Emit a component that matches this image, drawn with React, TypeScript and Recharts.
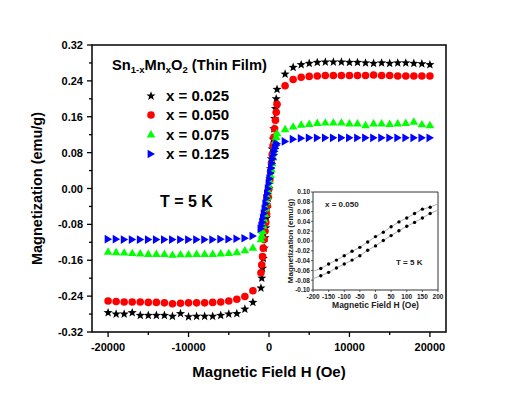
import {
  ScatterChart, Scatter, LineChart, Line,
  XAxis, YAxis, ReferenceArea, Legend
} from "recharts";

const FUENTE = "'Liberation Sans', Arial, sans-serif";

// Campo magnético H (Oe) de la figura principal
const campo = [
  -20000, -19000, -18000, -17000, -16000, -15000, -14000, -13000, -12000, -11000,
  -10000, -9000, -8000, -7000, -6000, -5000, -4000, -3000, -2000,
  -1000, -900, -800, -700, -600, -500, -400, -300, -200, -100,
  0, 100, 200, 300, 400, 500, 600, 700, 800, 900, 1000,
  2000, 3000, 4000, 5000, 6000, 7000, 8000, 9000, 10000, 11000,
  12000, 13000, 14000, 15000, 16000, 17000, 18000, 19000, 20000
];

// Magnetización (emu/g) para cada x
const m025 = [
  -0.277, -0.280, -0.280, -0.277, -0.283, -0.283, -0.283, -0.283, -0.285, -0.279,
  -0.286, -0.285, -0.285, -0.285, -0.283, -0.280, -0.279, -0.269, -0.254,
  -0.222, -0.200, -0.178, -0.156, -0.133, -0.110, -0.088, -0.066, -0.044, -0.022,
  0.000, 0.022, 0.044, 0.066, 0.088, 0.110, 0.133, 0.156, 0.178, 0.200, 0.221,
  0.255, 0.270, 0.276, 0.279, 0.281, 0.282, 0.282, 0.282, 0.281, 0.281,
  0.280, 0.279, 0.280, 0.279, 0.280, 0.280, 0.279, 0.278, 0.276
];

const m050 = [
  -0.251, -0.252, -0.253, -0.253, -0.253, -0.254, -0.254, -0.255, -0.257, -0.256,
  -0.255, -0.255, -0.255, -0.254, -0.253, -0.251, -0.247, -0.241, -0.228,
  -0.188, -0.170, -0.152, -0.133, -0.114, -0.095, -0.076, -0.057, -0.038, -0.019,
  0.000, 0.019, 0.038, 0.057, 0.076, 0.095, 0.114, 0.133, 0.152, 0.170, 0.188,
  0.229, 0.243, 0.248, 0.250, 0.251, 0.252, 0.252, 0.252, 0.252, 0.252,
  0.252, 0.253, 0.252, 0.252, 0.251, 0.251, 0.251, 0.251, 0.251
];

const m075 = [
  -0.140, -0.141, -0.142, -0.143, -0.144, -0.145, -0.145, -0.145, -0.147, -0.146,
  -0.146, -0.145, -0.145, -0.145, -0.144, -0.143, -0.141, -0.137, -0.131,
  -0.112, -0.104, -0.094, -0.082, -0.069, -0.056, -0.043, -0.030, -0.018, -0.006,
  0.006, 0.018, 0.031, 0.044, 0.057, 0.070, 0.083, 0.095, 0.106, 0.116, 0.124,
  0.133, 0.139, 0.143, 0.145, 0.147, 0.148, 0.148, 0.148, 0.146, 0.146,
  0.142, 0.146, 0.146, 0.145, 0.146, 0.147, 0.150, 0.144, 0.142
];

const m125 = [
  -0.113, -0.113, -0.114, -0.114, -0.114, -0.114, -0.114, -0.114, -0.114, -0.114,
  -0.114, -0.114, -0.114, -0.114, -0.113, -0.113, -0.112, -0.111, -0.106,
  -0.090, -0.083, -0.075, -0.066, -0.056, -0.045, -0.034, -0.022, -0.011, 0.000,
  0.011, 0.022, 0.034, 0.045, 0.056, 0.066, 0.075, 0.083, 0.090, 0.096, 0.100,
  0.105, 0.110, 0.112, 0.113, 0.113, 0.113, 0.113, 0.113, 0.113, 0.113,
  0.113, 0.113, 0.113, 0.113, 0.113, 0.113, 0.113, 0.113, 0.113
];

const ticksX = [-20000, -15000, -10000, -5000, 0, 5000, 10000, 15000, 20000];
const ticksY = [
  -0.32, -0.28, -0.24, -0.2, -0.16, -0.12, -0.08, -0.04, 0,
  0.04, 0.08, 0.12, 0.16, 0.2, 0.24, 0.28, 0.32
];

// Datos del recuadro (x = 0.050, T = 5 K)
const campoInset = [-200, -175, -150, -125, -100, -75, -50, -25, 0, 25, 50, 75, 100, 125, 150, 175, 200];
const ramaSuperior = [
  -0.062, -0.056, -0.047, -0.039, -0.030, -0.021, -0.013, -0.002, 0.009,
  0.018, 0.029, 0.039, 0.047, 0.056, 0.065, 0.069, 0.076
];
const ramaInferior = [
  -0.077, -0.071, -0.064, -0.055, -0.047, -0.039, -0.030, -0.019, -0.010,
  0.001, 0.011, 0.021, 0.030, 0.038, 0.047, 0.056, 0.063
];
const ticksXInset = [-200, -150, -100, -50, 0, 50, 100, 150, 200];
const ticksYInset = [-0.1, -0.08, -0.06, -0.04, -0.02, 0, 0.02, 0.04, 0.06, 0.08, 0.1];

// Marcadores
function Marcador({ forma, cx, cy, color }: any) {
  if (forma === "estrella") {
    const pts: string[] = [];
    for (let i = 0; i < 10; i++) {
      const r = i % 2 === 0 ? 4.8 : 2.0;
      const a = -Math.PI / 2 + (i * Math.PI) / 5;
      pts.push(`${cx + r * Math.cos(a)},${cy + r * Math.sin(a)}`);
    }
    return <polygon points={pts.join(" ")} fill={color} />;
  }
  if (forma === "circulo") {
    return <circle cx={cx} cy={cy} r={3.8} fill={color} />;
  }
  if (forma === "triangulo") {
    return <polygon points={`${cx},${cy - 4} ${cx + 4.3},${cy + 3.4} ${cx - 4.3},${cy + 3.4}`} fill={color} />;
  }
  return <polygon points={`${cx + 4},${cy} ${cx - 3.4},${cy + 4.3} ${cx - 3.4},${cy - 4.3}`} fill={color} />;
}

const series = [
  { nombre: "x = 0.025", valores: m025, color: "#000000", forma: "estrella" },
  { nombre: "x = 0.050", valores: m050, color: "#ff0000", forma: "circulo" },
  { nombre: "x = 0.075", valores: m075, color: "#00ff00", forma: "triangulo" },
  { nombre: "x = 0.125", valores: m125, color: "#0000ff", forma: "derecha" }
];

// Ticks con menores
function TickY(props: any) {
  const { x, y, index, payload } = props;
  const mayor = index % 2 === 0;
  return (
    <g>
      <line x1={x - (mayor ? 5 : 3)} x2={x} y1={y} y2={y} stroke="#000" strokeWidth={1.3} />
      {mayor && (
        <text x={x - 9} y={y + 4} textAnchor="end" fontSize={11} fontWeight="bold" fontFamily={FUENTE} fill="#000">
          {payload.value.toFixed(2)}
        </text>
      )}
    </g>
  );
}

function TickX(props: any) {
  const { x, y, index, payload } = props;
  const mayor = index % 2 === 0;
  return (
    <g>
      <line x1={x} x2={x} y1={y} y2={y + (mayor ? 5 : 3)} stroke="#000" strokeWidth={1.3} />
      {mayor && (
        <text x={x} y={y + 19} textAnchor="middle" fontSize={11} fontWeight="bold" fontFamily={FUENTE} fill="#000">
          {payload.value}
        </text>
      )}
    </g>
  );
}

function TickYInset(props: any) {
  const { x, y, payload } = props;
  return (
    <g>
      <line x1={x - 2} x2={x} y1={y} y2={y} stroke="#333" strokeWidth={0.8} />
      <text x={x - 3} y={y + 2.3} textAnchor="end" fontSize={6.5} fontWeight="bold" fontFamily={FUENTE} fill="#222">
        {payload.value.toFixed(2)}
      </text>
    </g>
  );
}

function TickXInset(props: any) {
  const { x, y, payload } = props;
  return (
    <g>
      <line x1={x} x2={x} y1={y} y2={y + 2} stroke="#333" strokeWidth={0.8} />
      <text x={x} y={y + 8.5} textAnchor="middle" fontSize={6.5} fontWeight="bold" fontFamily={FUENTE} fill="#222">
        {payload.value}
      </text>
    </g>
  );
}

function Leyenda() {
  return (
    <div style={{ fontFamily: FUENTE }}>
      {series.map((s) => (
        <div key={s.nombre} style={{ display: "flex", alignItems: "center", height: 19.3 }}>
          <svg width={16} height={16}>
            <Marcador forma={s.forma} cx={8} cy={8} color={s.color} />
          </svg>
          <span style={{ marginLeft: 7, fontSize: 15, fontWeight: "bold", color: "#000" }}>{s.nombre}</span>
        </div>
      ))}
    </div>
  );
}

export default function App() {
  const datosInset = campoInset.map((h, i) => ({
    h,
    sup: ramaSuperior[i],
    inf: ramaInferior[i]
  }));

  // punto sin marcador en los extremos
  const puntoInset = (p: any) =>
    Math.abs(p.payload.h) === 200
      ? <g key={p.key} />
      : <circle key={p.key} cx={p.cx} cy={p.cy} r={1.7} fill="#000" />;

  const sub = { fontSize: 9.5, lineHeight: 0, verticalAlign: -3 };

  return (
    <div style={{ position: "absolute", left: 0, top: 0, width: 518, height: 398, background: "#fff", fontFamily: FUENTE }}>

      <ScatterChart width={518} height={398} margin={{ top: 45, right: 72, bottom: 21, left: 30 }}>
        <XAxis
          type="number"
          dataKey="h"
          domain={[-22000, 22000]}
          ticks={ticksX}
          interval={0}
          tickSize={0}
          tickMargin={0}
          axisLine={false}
          tick={<TickX />}
          height={45}
          label={{
            value: "Magnetic Field H (Oe)", position: "insideBottom", offset: 0,
            fontSize: 15, fontWeight: "bold", fill: "#000", fontFamily: FUENTE
          }}
        />
        <YAxis
          type="number"
          dataKey="m"
          domain={[-0.32, 0.32]}
          ticks={ticksY}
          interval={0}
          tickSize={0}
          tickMargin={0}
          axisLine={false}
          tick={<TickY />}
          width={62}
          label={{
            value: "Magnetization (emu/g)", position: "insideLeft", offset: 7, angle: -90,
            fontSize: 14.5, fontWeight: "bold", fill: "#000", fontFamily: FUENTE,
            style: { textAnchor: "middle" }
          }}
        />

        {/* Marco */}
        <ReferenceArea x1={-22000} x2={22000} y1={-0.32} y2={0.32} fill="none" stroke="#000" strokeWidth={1.5} />

        {series.map((s) => (
          <Scatter
            key={s.nombre}
            name={s.nombre}
            data={campo.map((h, i) => ({ h, m: s.valores[i] }))}
            isAnimationActive={false}
            shape={(p: any) => <Marcador forma={s.forma} cx={p.cx} cy={p.cy} color={s.color} />}
          />
        ))}

        <Legend
          layout="vertical"
          align="center"
          verticalAlign="middle"
          wrapperStyle={{ left: 143, top: 86, width: "auto" }}
          content={() => <Leyenda />}
        />
      </ScatterChart>

      {/* Título y temperatura */}
      <div style={{ position: "absolute", left: 112, top: 57, fontSize: 14.7, lineHeight: "16px", fontWeight: "bold", whiteSpace: "nowrap" }}>
        Sn<sub style={sub}>1-x</sub>Mn<sub style={sub}>x</sub>O<sub style={sub}>2</sub> (Thin Film)
      </div>
      <div style={{ position: "absolute", left: 160, top: 193, fontSize: 16, lineHeight: "18px", fontWeight: "bold", whiteSpace: "nowrap" }}>
        T = 5 K
      </div>

      {/* Recuadro */}
      <div style={{ position: "absolute", left: 270, top: 185, width: 180, height: 130 }}>
        <LineChart width={180} height={130} data={datosInset} margin={{ top: 7, right: 12, bottom: 7, left: 12 }}>
          <XAxis
            type="number"
            dataKey="h"
            domain={[-200, 200]}
            ticks={ticksXInset}
            interval={0}
            tickSize={0}
            tickMargin={0}
            axisLine={false}
            tick={<TickXInset />}
            height={18}
            label={{
              value: "Magnetic Field H (Oe)", position: "insideBottom", offset: 0,
              fontSize: 8.5, fontWeight: "bold", fill: "#222", fontFamily: FUENTE
            }}
          />
          <YAxis
            type="number"
            domain={[-0.1, 0.1]}
            ticks={ticksYInset}
            interval={0}
            tickSize={0}
            tickMargin={0}
            axisLine={false}
            tick={<TickYInset />}
            width={31}
            label={{
              value: "Magnetization (emu/g)", position: "insideLeft", offset: 8, angle: -90,
              fontSize: 8, fontWeight: "bold", fill: "#222", fontFamily: FUENTE,
              style: { textAnchor: "middle" }
            }}
          />
          <ReferenceArea x1={-200} x2={200} y1={-0.1} y2={0.1} fill="none" stroke="#333" strokeWidth={1} />
          <Line dataKey="sup" stroke="#9a9a9a" strokeWidth={0.8} dot={puntoInset} isAnimationActive={false} />
          <Line dataKey="inf" stroke="#9a9a9a" strokeWidth={0.8} dot={puntoInset} isAnimationActive={false} />
        </LineChart>
        <div style={{ position: "absolute", left: 55, top: 15, fontSize: 8, lineHeight: "10px", fontWeight: "bold", color: "#222" }}>
          x = 0.050
        </div>
        <div style={{ position: "absolute", left: 126, top: 73, fontSize: 8, lineHeight: "10px", fontWeight: "bold", color: "#222" }}>
          T = 5 K
        </div>
      </div>

    </div>
  );
}
